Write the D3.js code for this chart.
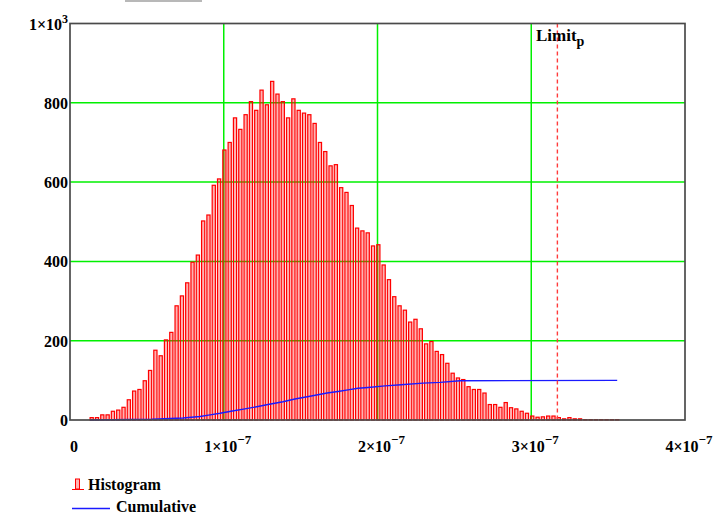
<!DOCTYPE html>
<html>
<head>
<meta charset="utf-8">
<script src="https://cdnjs.cloudflare.com/ajax/libs/d3/7.8.5/d3.min.js"></script>
<style>
body { margin: 0; background: #fff; }
svg { display: block; }
text { font-family: "Liberation Serif", "Times New Roman", serif; font-weight: bold; fill: #000; }
</style>
</head>
<body>
<div id="chart"></div>
<script>
// histogram counts, one per bin
const counts = [
    6, 6, 13, 13, 22, 25, 32, 51, 73, 77, 99, 125, 176, 162, 202, 221, 288, 313, 346, 398, 416, 502, 517, 592, 608,
    681, 700, 762, 733, 770, 803, 781, 832, 795, 854, 822, 803, 762, 810, 781, 774, 770, 748, 700, 677, 641, 644, 586, 574, 541, 484,
    477, 472, 439, 442, 391, 354, 311, 288, 277, 247, 254, 230, 192, 198, 173, 165, 143, 118, 106, 102, 84, 77, 77, 68, 39, 39,
    32, 44, 31, 28, 22, 17, 10, 7, 8, 10, 10, 6, 3, 6, 3, 3,
    1, 1, 1, 1, 1, 1, 1
];
// centre of first and last bin
const binFirst = 1.411e-8;
const binLast = 3.559e-7;

// cumulative curve (percent)
const cumX = [0.130e-7, 0.533e-7, 0.735e-7, 0.846e-7, 0.911e-7, 0.976e-7, 1.047e-7, 1.138e-7, 1.223e-7,
    1.288e-7, 1.385e-7, 1.463e-7, 1.561e-7, 1.672e-7, 1.743e-7, 1.808e-7, 1.873e-7, 1.938e-7, 2.049e-7,
    2.153e-7, 2.296e-7, 2.407e-7, 2.537e-7, 3.559e-7];
const cumPct = [0, 2, 5, 9, 13, 17, 22, 28, 34, 39, 46, 53, 60, 68, 72, 76, 80, 82, 86, 89, 93, 95, 99, 100];

const limitP = 3.17e-7;

const xTicks = [0, 1e-7, 2e-7, 3e-7, 4e-7];
const xTickLabels = [["0", ""], ["1×10", "−7"], ["2×10", "−7"], ["3×10", "−7"], ["4×10", "−7"]];
const yTicks = [0, 200, 400, 600, 800, 1000];
const yTickLabels = [["0", ""], ["200", ""], ["400", ""], ["600", ""], ["800", ""], ["1×10", "3"]];

const W = 719, H = 515;

var svg = d3.select("#chart").append("svg")
    .attr("width", W)
    .attr("height", H);

var x = d3.scaleLinear().domain([0, 4e-7]).range([70, 685]);
var y = d3.scaleLinear().domain([0, 1000]).range([420, 23.5]);

// clipped caption at the very top
svg.append("rect")
    .attr("x", 125).attr("y", 0)
    .attr("width", 77).attr("height", 2)
    .attr("fill", "#b8b8b8");

// grid
var grid = svg.append("g");
grid.selectAll("line.gx")
    .data(xTicks.slice(1, 4))
    .enter().append("line")
    .attr("x1", d => x(d)).attr("x2", d => x(d))
    .attr("y1", y(1000)).attr("y2", y(0))
    .attr("stroke", "#00f000")
    .attr("stroke-width", 1.5);
grid.selectAll("line.gy")
    .data(yTicks.slice(1, 5))
    .enter().append("line")
    .attr("x1", x(0)).attr("x2", x(4e-7))
    .attr("y1", d => y(d)).attr("y2", d => y(d))
    .attr("stroke", "#00f000")
    .attr("stroke-width", 1.5);

// histogram bars
var step = (binLast - binFirst) / (counts.length - 1);
var centers = counts.map((c, i) => binFirst + i * step);
var barW = (x(step) - x(0)) * 0.6;

svg.append("g").selectAll("rect")
    .data(counts)
    .enter().append("rect")
    .attr("x", (d, i) => x(centers[i]) - barW / 2)
    .attr("y", d => y(d))
    .attr("width", barW)
    .attr("height", d => y(0) - y(d))
    .attr("fill", "rgba(255,0,0,0.3)")
    .attr("stroke", "#ff0000")
    .attr("stroke-width", 1.2);

// cumulative line
var line = d3.line()
    .x(d => x(d[0]))
    .y(d => y(d[1]));

svg.append("path")
    .datum(cumX.map((v, i) => [v, cumPct[i]]))
    .attr("d", line)
    .attr("fill", "none")
    .attr("stroke", "#1a1aff")
    .attr("stroke-width", 1.4);

// limit marker
svg.append("line")
    .attr("x1", x(limitP)).attr("x2", x(limitP))
    .attr("y1", y(1000)).attr("y2", y(0))
    .attr("stroke", "#ff3b3b")
    .attr("stroke-width", 1.4)
    .attr("stroke-dasharray", "4,3");

var lim = svg.append("text")
    .attr("x", 536).attr("y", 41)
    .style("font-size", "17px")
    .text("Limit");
lim.append("tspan")
    .attr("dy", 5)
    .style("font-size", "14px")
    .text("p");

// frame
svg.append("rect")
    .attr("x", x(0)).attr("y", y(1000))
    .attr("width", x(4e-7) - x(0))
    .attr("height", y(0) - y(1000))
    .attr("fill", "none")
    .attr("stroke", "#4a4a4a")
    .attr("stroke-width", 1.7);

// y tick labels
var yl = svg.append("g").selectAll("text")
    .data(yTicks)
    .enter().append("text")
    .attr("x", 68)
    .attr("y", d => y(d) + 6)
    .attr("text-anchor", "end")
    .style("font-size", "16px");
yl.append("tspan").text((d, i) => yTickLabels[i][0]);
yl.append("tspan")
    .attr("dy", -7)
    .style("font-size", "12px")
    .text((d, i) => yTickLabels[i][1]);

// x tick labels
var xl = svg.append("g").selectAll("text")
    .data(xTicks)
    .enter().append("text")
    .attr("x", d => x(d) + 4)
    .attr("y", 452)
    .attr("text-anchor", "middle")
    .style("font-size", "16px");
xl.append("tspan").text((d, i) => xTickLabels[i][0]);
xl.append("tspan")
    .attr("dy", -8)
    .style("font-size", "13px")
    .text((d, i) => xTickLabels[i][1]);

// legend
var leg = svg.append("g");
leg.append("rect")
    .attr("x", 75.5).attr("y", 479)
    .attr("width", 4).attr("height", 10)
    .attr("fill", "rgba(255,0,0,0.3)")
    .attr("stroke", "#ff0000");
leg.append("line")
    .attr("x1", 72).attr("x2", 84)
    .attr("y1", 489.5).attr("y2", 489.5)
    .attr("stroke", "#ff0000");
leg.append("text")
    .attr("x", 88).attr("y", 490)
    .style("font-size", "16px")
    .text("Histogram");
leg.append("line")
    .attr("x1", 72).attr("x2", 110)
    .attr("y1", 508.5).attr("y2", 508.5)
    .attr("stroke", "#1a1aff")
    .attr("stroke-width", 1.4);
leg.append("text")
    .attr("x", 116).attr("y", 512)
    .style("font-size", "16px")
    .text("Cumulative");
</script>
</body>
</html>
